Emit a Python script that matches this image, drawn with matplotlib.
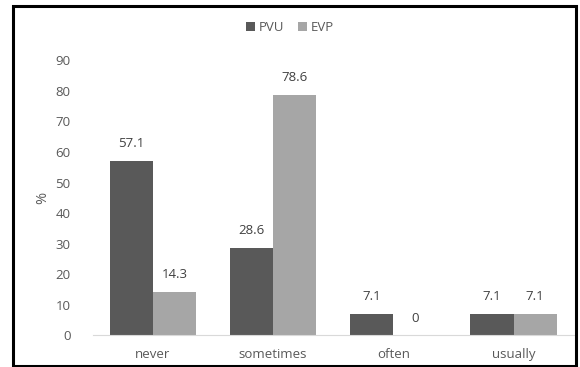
import numpy as np
import matplotlib
matplotlib.use("Agg")
import matplotlib.pyplot as plt
from matplotlib.patches import Rectangle

categories = ["never", "sometimes", "often", "usually"]
pvu = [57.1, 28.6, 7.1, 7.1]
evp = [14.3, 78.6, 0, 7.1]
series_names = ["PVU", "EVP"]

plt.rcParams['font.family'] = ['Open Sans', 'DejaVu Sans']

fig = plt.figure(figsize=(5.8, 3.67), dpi=100)
ax = fig.add_axes([0.160, 0.086, 0.829, 0.750])

x = np.arange(len(categories))
w = 0.36
b1 = ax.bar(x - w / 2, pvu, w, color="#595959", label=series_names[0])
b2 = ax.bar(x + w / 2, evp, w, color="#a6a6a6", label=series_names[1])

for bars in (b1, b2):
    for r in bars:
        h = r.get_height()
        ax.text(r.get_x() + r.get_width() / 2, h + 3.5, "%g" % h,
                ha="center", va="bottom", fontsize=9.5, color="#404040")

ax.set_xlim(-0.5, len(categories) - 0.5)
ax.set_ylim(0, 90)
ax.set_yticks(range(0, 91, 10))
ax.set_xticks(x)
ax.set_xticklabels(categories)
ax.tick_params(axis="both", length=0, labelsize=9.5, colors="#595959")
ax.tick_params(axis="x", pad=9)
ax.tick_params(axis="y", pad=16)
for s in ("top", "right", "left"):
    ax.spines[s].set_visible(False)
ax.spines["bottom"].set_color("#d9d9d9")
ax.set_ylabel("%", fontsize=10.5, color="#595959", labelpad=4)

fig.legend(loc="upper center", bbox_to_anchor=(0.5, 0.975), ncol=2, frameon=False,
           fontsize=9.5, handlelength=0.7, handleheight=0.7, columnspacing=1.0,
           handletextpad=0.3, labelcolor="#595959")

# frame around the whole figure
fig.patches.append(Rectangle((12.5 / 580, 1 - 365.5 / 367), 563.5 / 580, 359.5 / 367,
                             transform=fig.transFigure, fill=False,
                             edgecolor="black", linewidth=2.2))

fig.savefig("out.png", dpi=100)
